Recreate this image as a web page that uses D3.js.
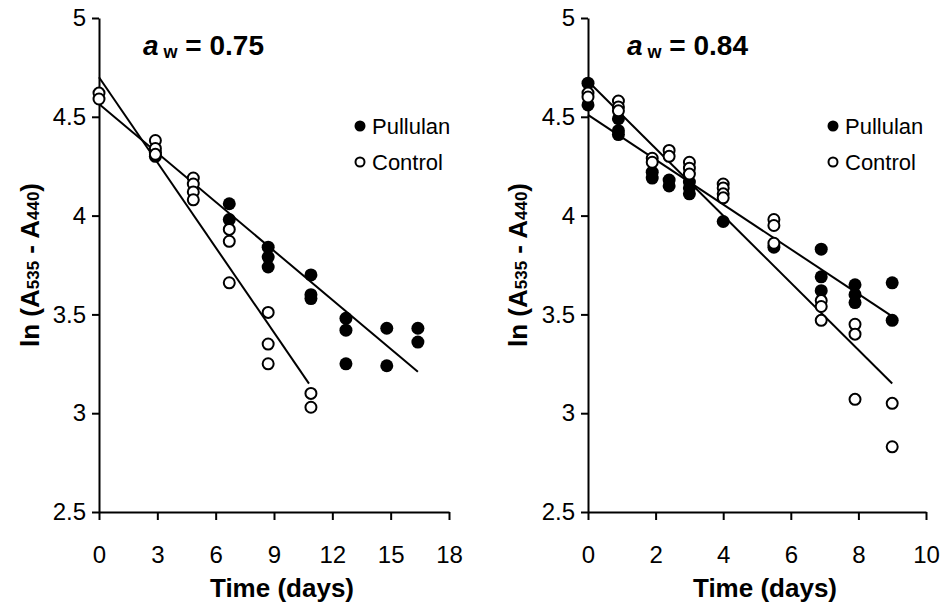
<!DOCTYPE html>
<html>
<head>
<meta charset="utf-8">
<script src="https://cdn.jsdelivr.net/npm/d3@7"></script>
<style>
  body { margin: 0; background: #fff; }
  svg { font-family: "Liberation Sans", Arial, sans-serif; }
</style>
</head>
<body>
<svg width="949" height="613"></svg>
<script>
// values: [day, ln(A535 - A440)]
const leftPullulan = [
  [2.9, 4.32], [2.9, 4.30],
  [6.7, 4.06], [6.7, 3.98],
  [8.7, 3.84], [8.7, 3.79], [8.7, 3.74],
  [10.9, 3.70], [10.9, 3.60], [10.9, 3.58],
  [12.7, 3.48], [12.7, 3.42], [12.7, 3.25],
  [14.8, 3.43], [14.8, 3.24],
  [16.4, 3.43], [16.4, 3.36]
];
const leftControl = [
  [0, 4.62], [0, 4.59],
  [2.9, 4.38], [2.9, 4.34], [2.9, 4.31],
  [4.85, 4.19], [4.85, 4.16], [4.85, 4.12], [4.85, 4.08],
  [6.7, 3.93], [6.7, 3.87], [6.7, 3.66],
  [8.7, 3.51], [8.7, 3.35], [8.7, 3.25],
  [10.9, 3.10], [10.9, 3.03]
];
const rightPullulan = [
  [0, 4.67], [0, 4.56],
  [0.9, 4.49], [0.9, 4.43], [0.9, 4.41],
  [1.9, 4.22], [1.9, 4.19],
  [2.4, 4.18], [2.4, 4.15],
  [3.0, 4.17], [3.0, 4.14], [3.0, 4.11],
  [4.0, 3.97],
  [5.5, 3.84],
  [6.9, 3.83], [6.9, 3.69], [6.9, 3.62],
  [7.9, 3.65], [7.9, 3.60], [7.9, 3.56],
  [9.0, 3.66], [9.0, 3.47]
];
const rightControl = [
  [0, 4.62], [0, 4.60],
  [0.9, 4.58], [0.9, 4.55], [0.9, 4.53],
  [1.9, 4.29], [1.9, 4.27],
  [2.4, 4.33], [2.4, 4.30],
  [3.0, 4.27], [3.0, 4.24], [3.0, 4.21],
  [4.0, 4.16], [4.0, 4.14], [4.0, 4.11], [4.0, 4.09],
  [5.5, 3.98], [5.5, 3.95], [5.5, 3.86],
  [6.9, 3.57], [6.9, 3.54], [6.9, 3.47],
  [7.9, 3.45], [7.9, 3.40], [7.9, 3.07],
  [9.0, 3.05], [9.0, 2.83]
];

// fitted lines: [[dayStart, valueStart], [dayEnd, valueEnd]]
const leftPullulanFit = [[0, 4.565], [16.4, 3.21]];
const leftControlFit = [[0, 4.70], [10.8, 3.15]];
const rightPullulanFit = [[0, 4.51], [9.0, 3.49]];
const rightControlFit = [[0, 4.68], [9.0, 3.15]];

const leftXTicks = [0, 3, 6, 9, 12, 15, 18];
const rightXTicks = [0, 2, 4, 6, 8, 10];
const yTicks = [2.5, 3, 3.5, 4, 4.5, 5];
const titles = ["0.75", "0.84"];
const seriesNames = ["Pullulan", "Control"];

const svg = d3.select("svg");
const plotTop = 18, plotBottom = 512;

const y = d3.scaleLinear().domain([2.5, 5]).range([plotBottom, plotTop]);

const panels = [
  { x0: 99, x1: 449, max: 18, ticks: leftXTicks, pul: leftPullulan, con: leftControl,
    pulFit: leftPullulanFit, conFit: leftControlFit, title: titles[0],
    titleX: 143, legX: 360, labelX: 30, timeX: 282 },
  { x0: 588, x1: 926, max: 10, ticks: rightXTicks, pul: rightPullulan, con: rightControl,
    pulFit: rightPullulanFit, conFit: rightControlFit, title: titles[1],
    titleX: 627, legX: 833, labelX: 518, timeX: 765 }
];

panels.forEach(p => {
  const x = d3.scaleLinear().domain([0, p.max]).range([p.x0, p.x1]);
  const g = svg.append("g");

  const ya = g.append("g")
    .attr("transform", `translate(${p.x0},0)`)
    .call(d3.axisLeft(y).tickValues(yTicks).tickFormat(d => String(d))
      .tickSize(7).tickSizeOuter(0).tickPadding(6));
  const xa = g.append("g")
    .attr("transform", `translate(0,${plotBottom})`)
    .call(d3.axisBottom(x).tickValues(p.ticks).tickFormat(d => String(d))
      .tickSize(8).tickSizeOuter(0).tickPadding(26));
  [ya, xa].forEach(a => {
    a.selectAll("path, line").attr("stroke", "#000").attr("stroke-width", 2);
    a.selectAll("text").attr("fill", "#000").style("font-size", "24px");
  });

  // regression lines
  const line = d3.line().x(d => x(d[0])).y(d => y(d[1]));
  [p.pulFit, p.conFit].forEach(f => {
    g.append("path").attr("d", line(f))
      .attr("fill", "none").attr("stroke", "#000").attr("stroke-width", 2);
  });

  // points: filled first, open on top
  g.selectAll(".pul").data(p.pul).enter().append("circle")
    .attr("cx", d => x(d[0])).attr("cy", d => y(d[1])).attr("r", 6.5)
    .attr("fill", "#000");
  g.selectAll(".con").data(p.con).enter().append("circle")
    .attr("cx", d => x(d[0])).attr("cy", d => y(d[1])).attr("r", 5.5)
    .attr("fill", "#fff").attr("stroke", "#000").attr("stroke-width", 2);

  // title a_w = ...
  const t = g.append("text").attr("x", p.titleX).attr("y", 55)
    .attr("font-weight", "bold").style("font-size", "28px");
  t.append("tspan").attr("font-style", "italic").text("a");
  t.append("tspan").style("font-size", "18px").attr("dx", 5).attr("dy", 3).text("w");
  t.append("tspan").attr("dy", -3).text(" = " + p.title);

  // legend
  const leg = [[126, true], [162, false]];
  leg.forEach((l, i) => {
    g.append("circle").attr("cx", p.legX).attr("cy", l[0])
      .attr("r", l[1] ? 5.5 : 4.5)
      .attr("fill", l[1] ? "#000" : "#fff").attr("stroke", "#000").attr("stroke-width", l[1] ? 0 : 2);
    g.append("text").attr("x", p.legX + 12).attr("y", l[0] + 8)
      .style("font-size", "22px").text(seriesNames[i]);
  });

  // axis titles
  const yl = g.append("text")
    .attr("transform", `translate(${p.labelX + 9},${(plotTop + plotBottom) / 2}) rotate(-90)`)
    .attr("text-anchor", "middle").attr("font-weight", "bold").style("font-size", "26px");
  yl.append("tspan").text("ln (A");
  yl.append("tspan").style("font-size", "17px").text("535");
  yl.append("tspan").text(" - A");
  yl.append("tspan").style("font-size", "17px").text("440");
  yl.append("tspan").text(")");

  g.append("text").attr("x", p.timeX).attr("y", 597)
    .attr("text-anchor", "middle").attr("font-weight", "bold").style("font-size", "26px")
    .text("Time (days)");
});
</script>
</body>
</html>
